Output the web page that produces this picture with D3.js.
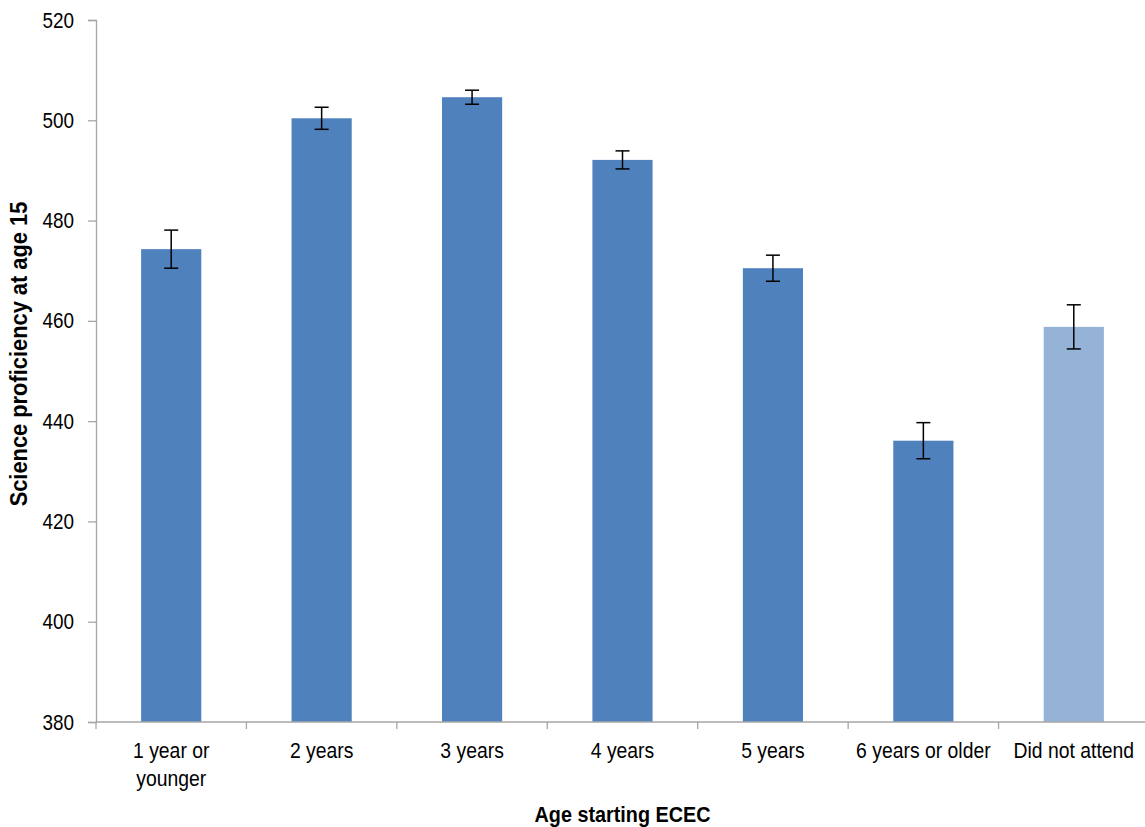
<!DOCTYPE html>
<html><head><meta charset="utf-8">
<script src="https://cdn.jsdelivr.net/npm/d3@7/dist/d3.min.js"></script>
<style>
body{margin:0;background:#fff;}
text{font-family:"Liberation Sans",Arial,sans-serif;fill:#000;}
</style></head>
<body>
<svg id="chart" width="1145" height="827"></svg>
<script>
const categories = ["1 year or|younger","2 years","3 years","4 years","5 years","6 years or older","Did not attend"];
const scores = [474.3, 500.4, 504.6, 492.1, 470.5, 436.1, 458.8];
const errLow = [470.5, 498.2, 503.2, 490.3, 467.9, 432.5, 454.4];
const errHigh = [478.1, 502.6, 506.0, 493.9, 473.1, 439.7, 463.2];
const barColors = ["#4F81BD","#4F81BD","#4F81BD","#4F81BD","#4F81BD","#4F81BD","#95B3D7"];
const yTicks = [380,400,420,440,460,480,500,520];

const svg = d3.select("#chart");
const mLeft = 96, mRight = 1149, mTop = 20, mBottom = 722;
const narrow = 0.88;

const x = d3.scaleBand().domain(categories).range([mLeft, mRight]).paddingInner(0.6).paddingOuter(0.3);
const xb = d3.scaleBand().domain(categories).range([mLeft, mRight]).padding(0);
const y = d3.scaleLinear().domain([380, 520]).range([mBottom, mTop]);

// bars
svg.append("g").selectAll("rect").data(scores).join("rect")
  .attr("x", (d,i) => x(categories[i]))
  .attr("y", d => y(d))
  .attr("width", x.bandwidth())
  .attr("height", d => y(380) - y(d))
  .attr("fill", (d,i) => barColors[i]);

// y axis
const yAxis = svg.append("g").attr("transform", `translate(${mLeft},0)`)
  .call(d3.axisLeft(y).tickValues(yTicks).tickSize(8).tickPadding(14).tickFormat(d3.format("d")));
yAxis.select(".domain").attr("stroke", "#A6A6A6").attr("stroke-width", 1.3);
yAxis.selectAll(".tick line").attr("stroke", "#A6A6A6").attr("stroke-width", 1.3);
yAxis.selectAll(".tick text").attr("font-size", "22px").attr("fill", "#000")
  .attr("x", 0).attr("transform", `translate(-22,0) scale(0.86,1)`);

// x axis
const xAxis = svg.append("g").attr("transform", `translate(0,${mBottom})`)
  .call(d3.axisBottom(xb).tickSize(0).tickFormat(() => ""));
xAxis.select(".domain").attr("stroke", "#A6A6A6").attr("stroke-width", 1.3).attr("d", `M${mLeft},0H${mRight}`);
const bounds = categories.map(c => xb(c));
svg.append("g").selectAll("line").data(bounds).join("line")
  .attr("x1", d => d).attr("x2", d => d)
  .attr("y1", mBottom).attr("y2", mBottom + 7)
  .attr("stroke", "#A6A6A6").attr("stroke-width", 1.3);

// x labels
const lab = svg.append("g").selectAll("text").data(categories).join("text")
  .attr("transform", d => `translate(${xb(d) + xb.bandwidth()/2},${mBottom + 36}) scale(${narrow},1)`)
  .attr("text-anchor", "middle")
  .attr("font-size", "22px");
lab.each(function(d){
  const parts = d.split("|");
  const t = d3.select(this);
  parts.forEach((p,k) => {
    t.append("tspan").attr("x", 0).attr("dy", k === 0 ? 0 : 28).text(p);
  });
});

// error bars
const eg = svg.append("g");
scores.forEach((s,i) => {
  const cx = x(categories[i]) + x.bandwidth()/2;
  eg.append("line").attr("x1", cx).attr("x2", cx).attr("y1", y(errHigh[i])).attr("y2", y(errLow[i]))
    .attr("stroke", "#000").attr("stroke-width", 1.5);
  [errHigh[i], errLow[i]].forEach(v => {
    eg.append("line").attr("x1", cx - 7).attr("x2", cx + 7).attr("y1", y(v)).attr("y2", y(v))
      .attr("stroke", "#000").attr("stroke-width", 1.5);
  });
});

// axis titles
svg.append("text").attr("transform", `translate(${(mLeft + mRight)/2},822) scale(0.9,1)`)
  .attr("text-anchor", "middle").attr("font-size", "22px").attr("font-weight", "bold")
  .text("Age starting ECEC");
svg.append("text").attr("transform", `translate(27,354) rotate(-90) scale(0.95,1)`)
  .attr("text-anchor", "middle").attr("font-size", "23px").attr("font-weight", "bold")
  .text("Science proficiency at age 15");
</script>
</body></html>
